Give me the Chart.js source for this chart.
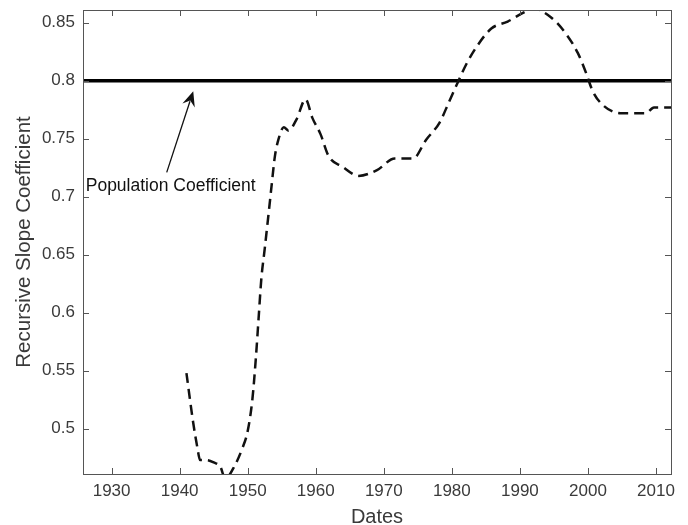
<!DOCTYPE html>
<html>
<head>
<meta charset="UTF-8">
<title>Recursive Slope Coefficient</title>
<script src="https://cdn.jsdelivr.net/npm/chart.js"></script>
<style>
  html, body { margin: 0; padding: 0; background: #ffffff; }
  #wrap { width: 688px; height: 525px; }
</style>
</head>
<body>
<div id="wrap"><canvas id="slopeChart" width="688" height="525"></canvas></div>
<script>
// recursive estimate of the slope
const years = [1941, 1942, 1942.6, 1943, 1944, 1945, 1946, 1946.7, 1947.9, 1949.2, 1950, 1950.7,
  1951.2, 1951.6, 1952, 1952.5, 1953.1, 1953.5, 1954, 1954.5, 1955.3, 1956, 1957.2, 1958.5,
  1959.5, 1960.7, 1961.9, 1963.9, 1966.3, 1969, 1971.6, 1974.3, 1976.2, 1978.2, 1979.6,
  1980.9, 1982.1, 1983.6, 1985.8, 1988.2, 1990.6, 1992, 1994.5, 1996.7, 1998.5, 1999.7,
  2000.7, 2002.2, 2004.8, 2006.8, 2008.5, 2009.7, 2012.2];
const slopeValues = [0.548, 0.505, 0.484, 0.473, 0.473, 0.471, 0.467, 0.457, 0.466, 0.483, 0.498, 0.526,
  0.561, 0.595, 0.629, 0.655, 0.687, 0.709, 0.735, 0.749, 0.760, 0.757, 0.767, 0.784,
  0.768, 0.754, 0.735, 0.726, 0.718, 0.723, 0.733, 0.733, 0.749, 0.764, 0.782,
  0.799, 0.814, 0.829, 0.845, 0.851, 0.859, 0.862, 0.855, 0.841, 0.824, 0.807,
  0.791, 0.779, 0.772, 0.772, 0.772, 0.777, 0.777];

const populationValue = 0.8;
const xRange = [1925.8, 2012.2];
const yRange = [0.461, 0.861];
const xTicks = [1930, 1940, 1950, 1960, 1970, 1980, 1990, 2000, 2010];
const yTicks = [0.5, 0.55, 0.6, 0.65, 0.7, 0.75, 0.8, 0.85];
const yTickLabels = ['0.5', '0.55', '0.6', '0.65', '0.7', '0.75', '0.8', '0.85'];

const annotationText = 'Population Coefficient';
const annotationAt = [1926.2, 0.709];
const arrowFrom = [1938.1, 0.721];
const arrowTo = [1942.0, 0.791];

const FONT = '"Liberation Sans", Arial, Helvetica, sans-serif';

// matlab style box with ticks pointing inwards on all four sides
const boxTicks = {
  id: 'boxTicks',
  afterDatasetsDraw(chart) {
    const {ctx, chartArea: a, scales: {x, y}} = chart;
    const len = 6;
    ctx.save();
    ctx.strokeStyle = '#555555';
    ctx.lineWidth = 1;
    ctx.beginPath();
    xTicks.forEach(v => {
      const px = Math.round(x.getPixelForValue(v)) + 0.5;
      ctx.moveTo(px, a.bottom); ctx.lineTo(px, a.bottom - len);
      ctx.moveTo(px, a.top); ctx.lineTo(px, a.top + len);
    });
    yTicks.forEach(v => {
      const py = Math.round(y.getPixelForValue(v)) + 0.5;
      ctx.moveTo(a.left, py); ctx.lineTo(a.left + len, py);
      ctx.moveTo(a.right, py); ctx.lineTo(a.right - len, py);
    });
    ctx.stroke();
    ctx.strokeRect(Math.round(a.left) + 0.5, Math.round(a.top) + 0.5,
      Math.round(a.right - a.left), Math.round(a.bottom - a.top));
    ctx.restore();
  }
};

const arrowNote = {
  id: 'arrowNote',
  afterDraw(chart) {
    const {ctx, scales: {x, y}} = chart;
    const x0 = x.getPixelForValue(arrowFrom[0]), y0 = y.getPixelForValue(arrowFrom[1]);
    const x1 = x.getPixelForValue(arrowTo[0]), y1 = y.getPixelForValue(arrowTo[1]);
    const ang = Math.atan2(y1 - y0, x1 - x0);
    const c = Math.cos(ang), s = Math.sin(ang);
    const head = 15, half = 6.5;
    ctx.save();
    ctx.strokeStyle = '#111';
    ctx.fillStyle = '#111';
    ctx.lineWidth = 1.3;
    ctx.beginPath();
    ctx.moveTo(x0, y0);
    ctx.lineTo(x1 - c * head * 0.7, y1 - s * head * 0.7);
    ctx.stroke();
    ctx.beginPath();
    ctx.moveTo(x1, y1);
    ctx.lineTo(x1 - c * head - s * half, y1 - s * head + c * half);
    ctx.lineTo(x1 - c * head * 0.65, y1 - s * head * 0.65);
    ctx.lineTo(x1 - c * head + s * half, y1 - s * head - c * half);
    ctx.closePath();
    ctx.fill();
    ctx.font = '17.5px ' + FONT;
    ctx.textBaseline = 'middle';
    ctx.textAlign = 'left';
    ctx.fillText(annotationText, x.getPixelForValue(annotationAt[0]), y.getPixelForValue(annotationAt[1]));
    ctx.restore();
  }
};

new Chart(document.getElementById('slopeChart'), {
  type: 'line',
  data: {
    datasets: [
      {
        label: 'Recursive',
        data: years.map((yr, i) => ({x: yr, y: slopeValues[i]})),
        borderColor: '#111111',
        borderWidth: 2.5,
        borderDash: [10, 6],
        pointRadius: 0,
        fill: false,
        tension: 0.4,
        cubicInterpolationMode: 'monotone'
      },
      {
        label: 'Population',
        data: xRange.map(yr => ({x: yr, y: populationValue})),
        borderColor: '#000000',
        borderWidth: 3.5,
        pointRadius: 0,
        fill: false
      }
    ]
  },
  options: {
    responsive: false,
    animation: false,
    devicePixelRatio: 1,
    layout: { padding: { top: 10, right: 17, bottom: 0, left: 0 } },
    plugins: { legend: { display: false }, tooltip: { enabled: false } },
    scales: {
      x: {
        type: 'linear',
        min: xRange[0],
        max: xRange[1],
        afterFit(s) { s.height = 51; s.paddingLeft = 0; s.paddingRight = 0; },
        afterBuildTicks(s) { s.ticks = xTicks.map(v => ({value: v})); },
        grid: { display: false, drawTicks: false },
        border: { display: false },
        ticks: { color: '#3a3a3a', padding: 7, font: { family: FONT, size: 17 }, maxRotation: 0,
          callback: v => String(v) },
        title: { display: true, text: 'Dates', color: '#3a3a3a',
          font: { family: FONT, size: 20, lineHeight: 1 }, padding: { top: 0, bottom: -2 } }
      },
      y: {
        min: yRange[0],
        max: yRange[1],
        afterFit(s) { s.width = 83; s.paddingTop = 0; s.paddingBottom = 0; },
        afterBuildTicks(s) { s.ticks = yTicks.map(v => ({value: v})); },
        grid: { display: false, drawTicks: false },
        border: { display: false },
        ticks: { color: '#3a3a3a', padding: 8, font: { family: FONT, size: 17 },
          callback: (v, i) => yTickLabels[i] },
        title: { display: true, text: 'Recursive Slope Coefficient', color: '#3a3a3a',
          font: { family: FONT, size: 20.5, lineHeight: 1.2 }, padding: { top: 12, bottom: 0 } }
      }
    }
  },
  plugins: [boxTicks, arrowNote]
});
</script>
</body>
</html>
